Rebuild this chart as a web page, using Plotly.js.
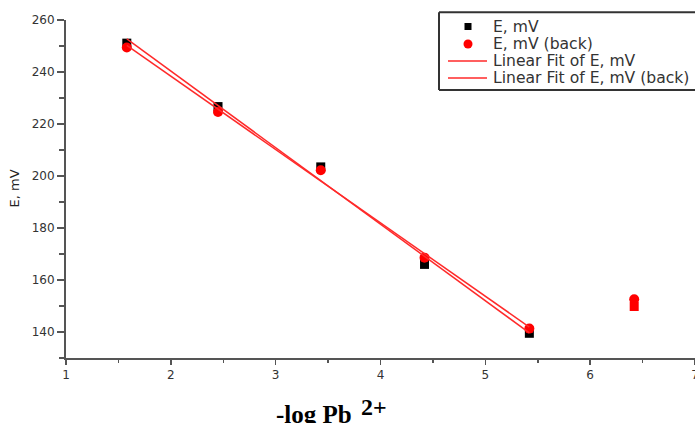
<!DOCTYPE html>
<html>
<head>
<meta charset="utf-8">
<script src="https://cdn.plot.ly/plotly-3.0.1.min.js"></script>
<style>
html,body{margin:0;padding:0;background:#fff;}
#chart{width:695px;height:423px;}
</style>
</head>
<body>
<div id="chart"></div>
<script>
// Data
const xVals = [1.58, 2.45, 3.43, 4.42, 5.42, 6.42];
const eForward = [251.1, 226.7, 203.5, 166.0, 139.5, 149.8];
const eBack = [249.4, 224.6, 202.2, 168.6, 141.3, 152.6];
const fitCount = 5; // points used in the linear fits (last point masked)
const forwardColors = ['#000000', '#000000', '#000000', '#000000', '#000000', '#ff0000'];
const seriesNames = ['E, mV', 'E, mV (back)', 'Linear Fit of E, mV', 'Linear Fit of E, mV (back)'];
const xTickVals = [1, 2, 3, 4, 5, 6, 7];
const yTickVals = [140, 160, 180, 200, 220, 240, 260];

function linFit(xs, ys, n) {
  const x = xs.slice(0, n), y = ys.slice(0, n);
  const mx = x.reduce((a, b) => a + b, 0) / n;
  const my = y.reduce((a, b) => a + b, 0) / n;
  let sxy = 0, sxx = 0;
  for (let i = 0; i < n; i++) { sxy += (x[i] - mx) * (y[i] - my); sxx += (x[i] - mx) ** 2; }
  const b = sxy / sxx, a = my - b * mx;
  const fx = [x[0], x[n - 1]];
  return { x: fx, y: fx.map(v => a + b * v) };
}
const fitF = linFit(xVals, eForward, fitCount);
const fitB = linFit(xVals, eBack, fitCount);

const W = 695, H = 423;
const M = { l: 66, r: 0, t: 20, b: 65 };
const plotW = W - M.l - M.r, plotH = H - M.t - M.b;
const px = v => (v - M.l) / plotW;          // page pixel -> paper x
const py = v => (H - M.b - v) / plotH;      // page pixel -> paper y

const red = '#ff0000', fitRed = '#ff2a2a';

const traces = [
  { x: xVals, y: eForward, type: 'scatter', mode: 'markers', name: seriesNames[0],
    marker: { symbol: 'square', size: 9, color: forwardColors } },
  { x: xVals, y: eBack, type: 'scatter', mode: 'markers', name: seriesNames[1],
    marker: { symbol: 'circle', size: 10, color: red } },
  { x: fitF.x, y: fitF.y, type: 'scatter', mode: 'lines', name: seriesNames[2],
    line: { color: fitRed, width: 1.5 } },
  { x: fitB.x, y: fitB.y, type: 'scatter', mode: 'lines', name: seriesNames[3],
    line: { color: fitRed, width: 1.5 } }
];

const axisCommon = {
  showline: true, linecolor: '#555', linewidth: 2, mirror: false,
  showgrid: false, zeroline: false,
  ticks: 'outside', tickcolor: '#555', tickwidth: 1.5,
  tickfont: { family: 'DejaVu Sans', size: 12, color: '#333' }
};

// Legend (drawn as a box with symbols and text, Origin style; box runs off the right edge)
const legRows = [26.5, 44, 61, 78];
const legSymX = 468;
const boxL = 439, boxR = 720, boxT = 12.3, boxB = 90;
const edge = { color: '#333', width: 2 };
const legendShapes = [
  { type: 'rect', xref: 'paper', yref: 'paper', x0: px(boxL), x1: px(boxR), y0: py(boxT), y1: py(boxB),
    line: { width: 0 }, fillcolor: '#fff', layer: 'above' },
  { type: 'line', xref: 'paper', yref: 'paper', x0: px(boxL), x1: px(boxR), y0: py(boxT), y1: py(boxT), line: edge, layer: 'above' },
  { type: 'line', xref: 'paper', yref: 'paper', x0: px(boxL), x1: px(boxR), y0: py(boxB), y1: py(boxB), line: edge, layer: 'above' },
  { type: 'line', xref: 'paper', yref: 'paper', x0: px(boxL), x1: px(boxL), y0: py(boxT), y1: py(boxB), line: edge, layer: 'above' },
  { type: 'rect', xref: 'paper', yref: 'paper', xsizemode: 'pixel', ysizemode: 'pixel',
    xanchor: px(legSymX), yanchor: py(legRows[0]), x0: -3.5, x1: 3.5, y0: -3.5, y1: 3.5,
    fillcolor: '#000', line: { width: 0 }, layer: 'above' },
  { type: 'circle', xref: 'paper', yref: 'paper', xsizemode: 'pixel', ysizemode: 'pixel',
    xanchor: px(legSymX), yanchor: py(legRows[1]), x0: -4.5, x1: 4.5, y0: -4.5, y1: 4.5,
    fillcolor: red, line: { width: 0 }, layer: 'above' },
  { type: 'line', xref: 'paper', yref: 'paper', x0: px(448), x1: px(487), y0: py(legRows[2]), y1: py(legRows[2]),
    line: { color: fitRed, width: 1.5 }, layer: 'above' },
  { type: 'line', xref: 'paper', yref: 'paper', x0: px(448), x1: px(487), y0: py(legRows[3]), y1: py(legRows[3]),
    line: { color: fitRed, width: 1.5 }, layer: 'above' }
];
const legendTexts = seriesNames.map((name, i) => ({
  text: name, xref: 'paper', yref: 'paper', x: px(491), y: py(legRows[i]),
  xanchor: 'left', yanchor: 'middle', showarrow: false,
  font: { family: 'DejaVu Sans', size: 15.6, color: '#333' }
}));

const layout = {
  width: W, height: H,
  margin: M,
  paper_bgcolor: '#fff', plot_bgcolor: '#fff',
  showlegend: false,
  xaxis: Object.assign({}, axisCommon, {
    range: [1, 7], tickvals: xTickVals, ticklen: 5, ticklabeloverflow: 'allow',
    minor: { dtick: 0.5, ticks: 'outside', ticklen: 3, tickcolor: '#555', tickwidth: 1.5 }
  }),
  yaxis: Object.assign({}, axisCommon, {
    range: [130, 260], tickvals: yTickVals, ticklen: 7,
    minor: { dtick: 10, ticks: 'outside', ticklen: 5, tickcolor: '#555', tickwidth: 1.5 }
  }),
  shapes: legendShapes,
  annotations: legendTexts.concat([
    { text: 'E, mV', xref: 'paper', yref: 'paper', x: px(14), y: py(188.5),
      xanchor: 'center', yanchor: 'middle', textangle: -90, showarrow: false,
      font: { family: 'DejaVu Sans', size: 13, color: '#222' } },
    { text: '-log Pb', xref: 'paper', yref: 'paper', x: px(274), y: py(430),
      xanchor: 'left', yanchor: 'bottom', showarrow: false,
      font: { family: 'Liberation Serif', size: 25, color: '#000', weight: 'bold' } },
    { text: '2+', xref: 'paper', yref: 'paper', x: px(359), y: py(422),
      xanchor: 'left', yanchor: 'bottom', showarrow: false,
      font: { family: 'Liberation Serif', size: 24, color: '#000', weight: 'bold' } }
  ])
};

Plotly.newPlot('chart', traces, layout, { displayModeBar: false, staticPlot: true });
</script>
</body>
</html>
